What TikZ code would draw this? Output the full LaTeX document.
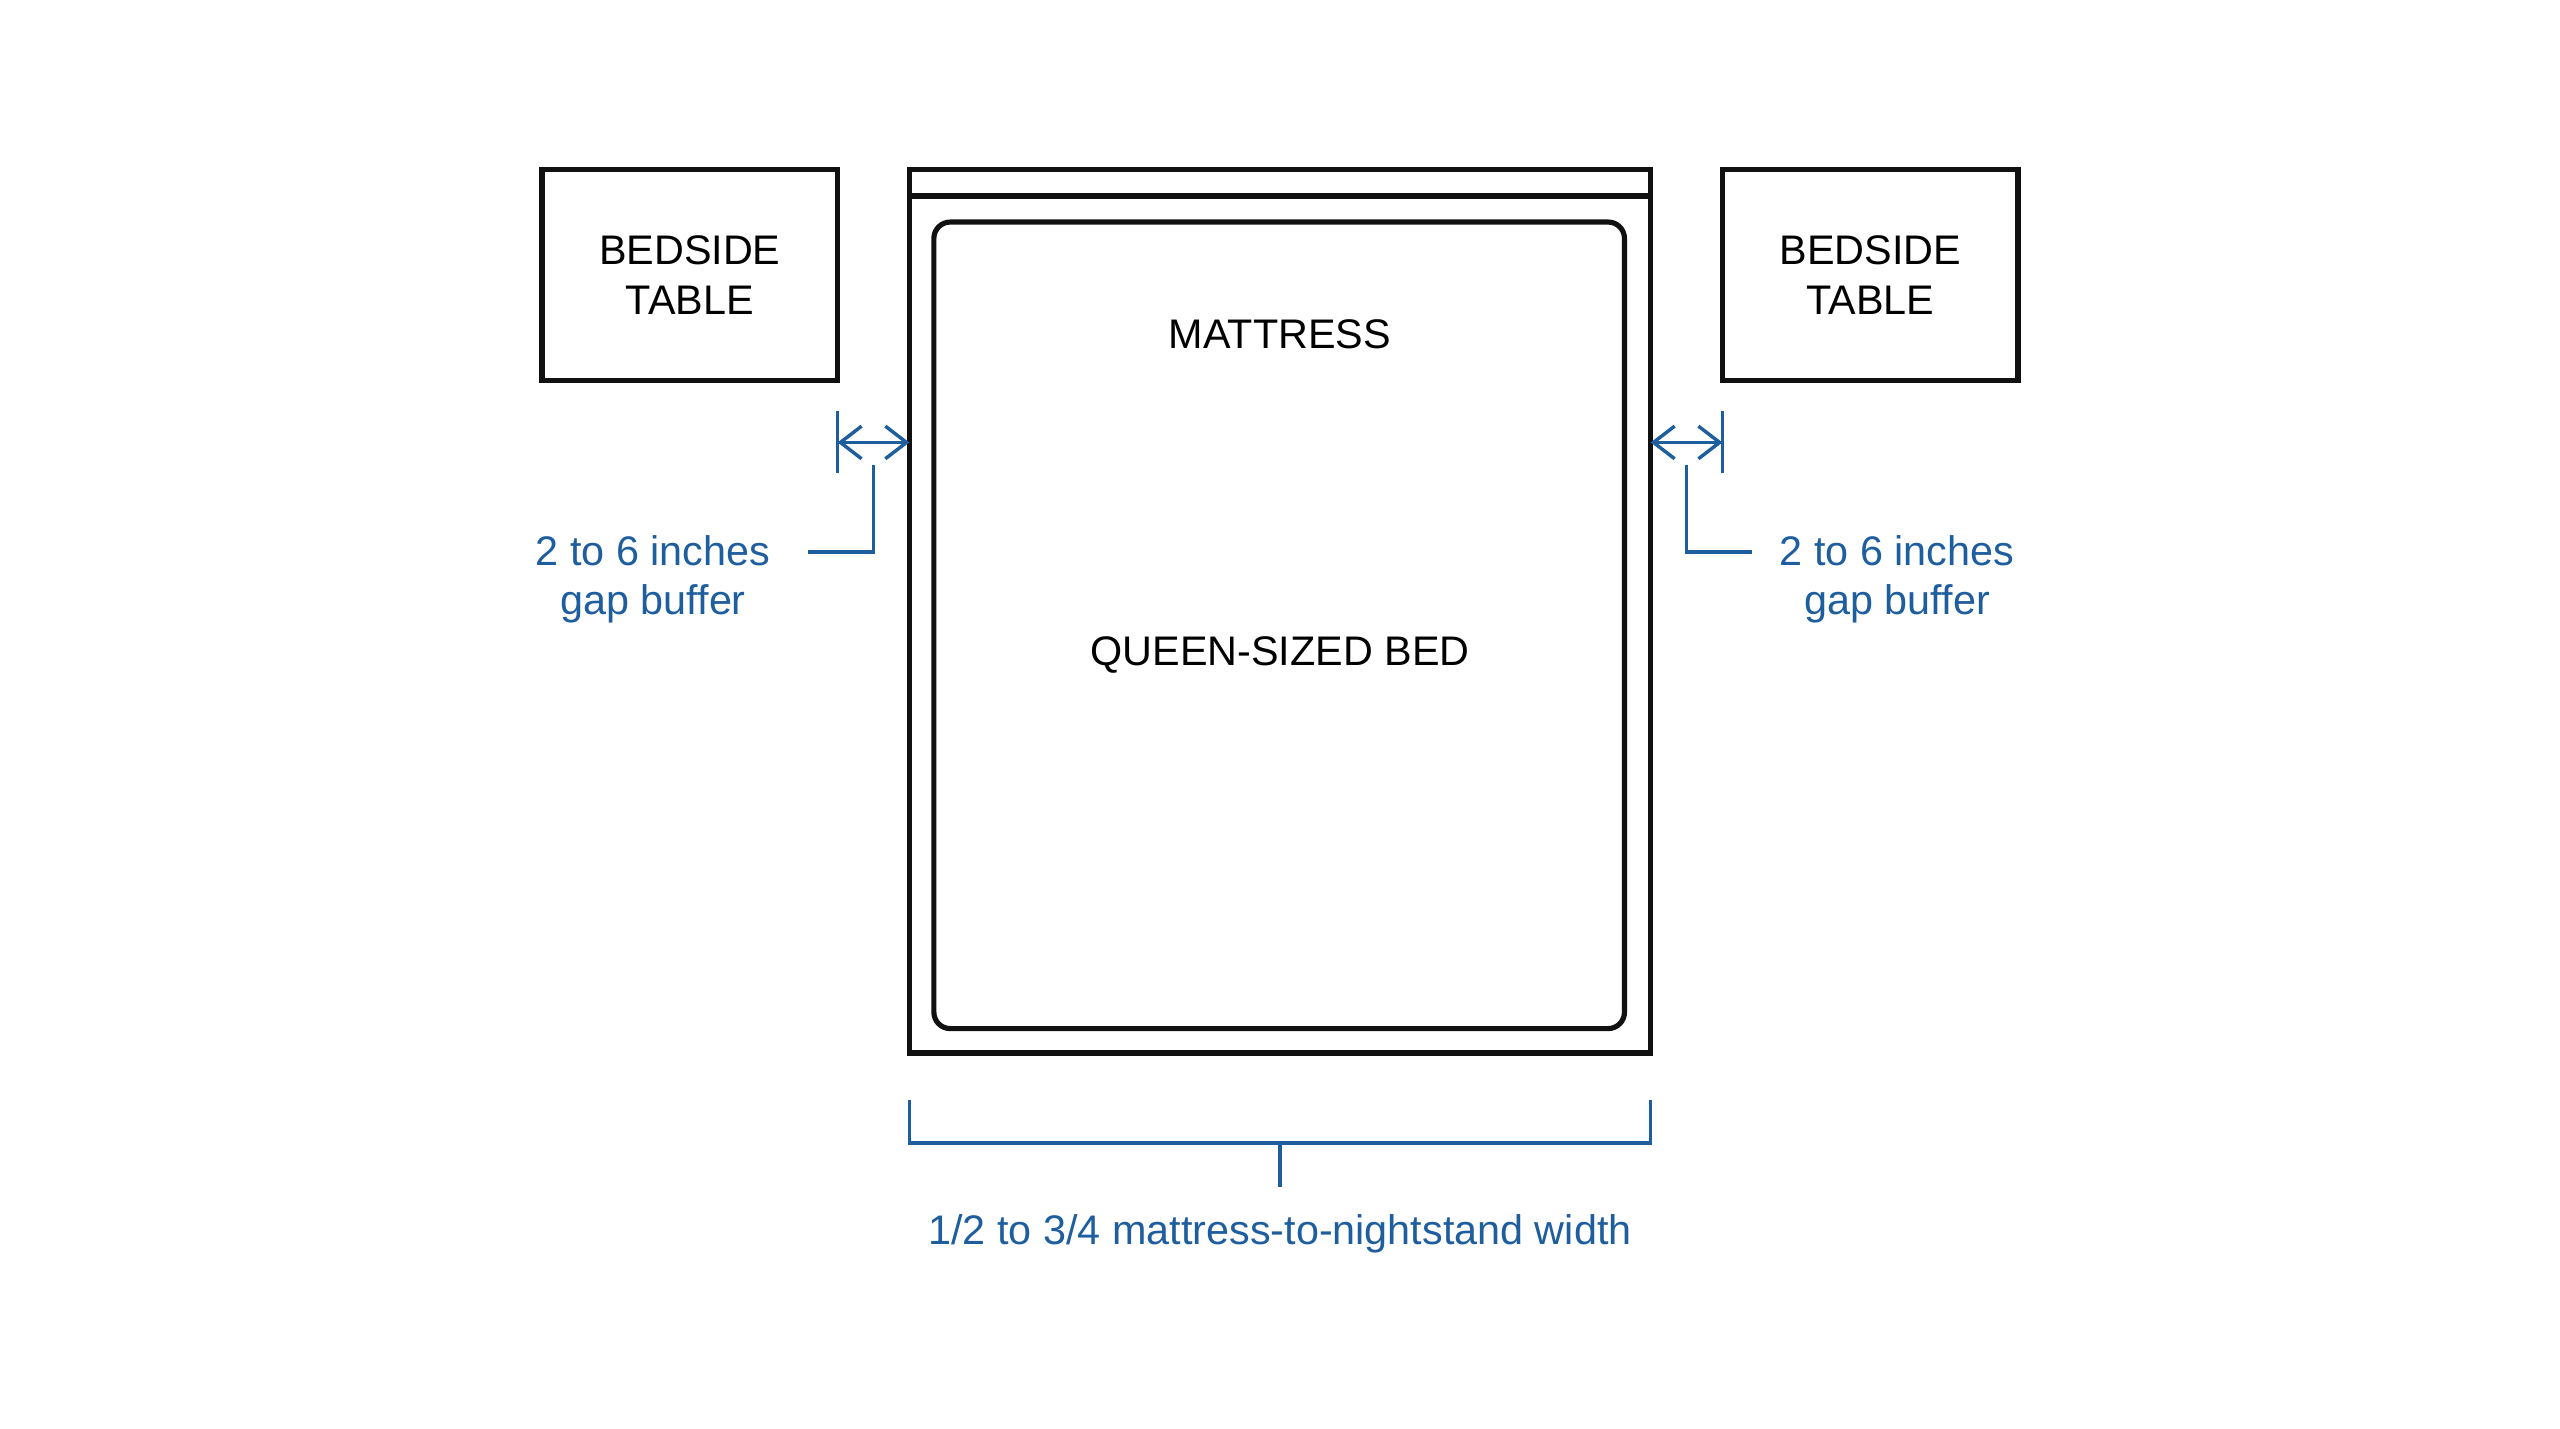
\documentclass[tikz,border=0pt]{standalone}
\usepackage{fontspec}
\setmainfont{Liberation Sans}
\usetikzlibrary{arrows.meta, positioning, calc}
\definecolor{dimblue}{HTML}{1F5E9E}
\definecolor{outline}{HTML}{111111}

\tikzset{
  furniture/.style={draw=outline, line width=0.9pt, align=center, font=\fontsize{7.2}{8.6}\selectfont},
  dimline/.style={draw=dimblue, line width=0.6pt},
  dimtext/.style={text=dimblue, align=center, font=\fontsize{7.2}{8.6}\selectfont},
  gaparrow/.style={dimline, {Straight Barb[length=1.3mm,width=2mm]}-{Straight Barb[length=1.3mm,width=2mm]}}
}

\begin{document}
\begin{tikzpicture}[x=0.01cm, y=-0.01cm]
  % Page frame
  \useasboundingbox (0,0) rectangle (1568,875);

  % Bedside tables
  \node[furniture, minimum width=1.81cm, minimum height=1.29cm] (tableleft) at (422.5,168.5) {BEDSIDE\\TABLE};
  \node[furniture, minimum width=1.81cm, minimum height=1.29cm] (tableright) at (1145.5,168.5) {BEDSIDE\\TABLE};

  % Bed frame, headboard and mattress
  \draw[furniture] (557,104) rectangle (1011,645);
  \draw[furniture] (557,120) -- (1011,120);
  \draw[furniture, rounded corners=0.1cm] (572,136) rectangle (995,630);
  \node[font=\fontsize{7.2}{8.6}\selectfont] (mattress) at (784,205) {MATTRESS};
  \node[font=\fontsize{7.2}{8.6}\selectfont] (bedlabel) at (784,401) {QUEEN-SIZED BED};

  % Left gap
  \coordinate (gapleftA) at (513,271);
  \coordinate (gapleftB) at (557,271);
  \draw[dimline] (513,252) -- (513,290);
  \draw[gaparrow] (gapleftA) -- (gapleftB);
  \node[dimtext] (gapleft) at (400,355) {2 to 6 inches\\gap buffer};
  \draw[dimline] (535,285) -- (535,338) -- (495,338);

  % Right gap
  \coordinate (gaprightA) at (1011,271);
  \coordinate (gaprightB) at (1055,271);
  \draw[dimline] (1055,252) -- (1055,290);
  \draw[gaparrow] (gaprightA) -- (gaprightB);
  \node[dimtext] (gapright) at (1162,355) {2 to 6 inches\\gap buffer};
  \draw[dimline] (1033,285) -- (1033,338) -- (1073,338);

  % Width bracket
  \draw[dimline] (557,674) -- (557,700) -- (1011,700) -- (1011,674);
  \node[dimtext] (widthnote) at (784,756) {1/2 to 3/4 mattress-to-nightstand width};
  \draw[dimline] (784,700) -- (784,727);
\end{tikzpicture}
\end{document}
